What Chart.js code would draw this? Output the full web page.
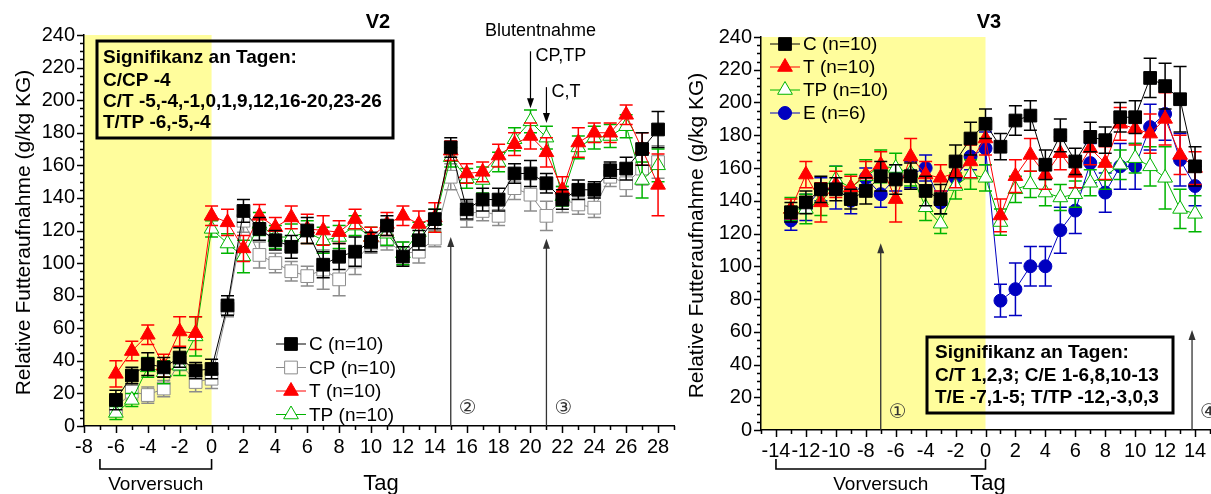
<!DOCTYPE html>
<html lang="de">
<head>
<meta charset="UTF-8">
<title>Relative Futteraufnahme V2 / V3</title>
<script src="https://cdn.jsdelivr.net/npm/chart.js"></script>
<style>
  html, body { margin:0; padding:0; background:#fff; overflow:hidden; width:1211px; height:494px }
  canvas { position:absolute; top:0 }
  #cV2 { left:0 }
  #cV3 { left:680px }
</style>
</head>
<body>
<canvas id="cV2" width="700" height="494"></canvas>
<canvas id="cV3" width="540" height="494"></canvas>

<script>
// ---- Versuch V2: Tage und Mittelwerte (g/kg KG) ----
const tageV2 = [-6,-5,-4,-3,-2,-1,0,1,2,3,4,5,6,7,8,9,10,11,12,13,14,15,16,17,18,19,20,21,22,23,24,25,26,27,28];
const futterC_V2  = [16,31,38,36,42,34,35,74,132,121,114,110,120,99,104,107,113,123,104,114,127,171,133,139,139,155,155,149,139,145,145,157,158,170,182];
const futterCP_V2 = [11,21,19,23,39,27,29,72,126,105,100,95,92,96,90,101,112,114,106,107,115,153,130,132,129,146,142,129,139,136,134,153,149,158,162];
const futterT_V2  = [32,46,56,37,58,57,129,125,109,129,122,128,121,120,119,127,116,124,129,124,128,169,155,156,166,173,178,168,145,174,180,180,191,170,148];
const futterTP_V2 = [8,16,36,33,37,55,121,112,104,124,116,116,119,114,116,123,116,118,106,119,126,165,152,151,162,176,187,177,141,171,177,178,184,151,160];
// Standardfehler
const fehlerC_V2  = [6,5,7,6,6,5,6,6,7,7,6,7,8,8,8,9,6,6,6,6,6,6,6,7,7,6,8,6,6,6,5,5,7,10,11];
const fehlerCP_V2 = [4,5,5,5,5,6,6,5,7,8,6,6,6,12,10,8,6,6,7,7,5,8,8,6,6,7,10,9,8,6,6,6,8,10,10];
const fehlerT_V2  = [8,6,6,7,9,10,6,8,8,7,6,7,9,9,7,6,6,7,6,8,9,6,6,6,7,7,8,9,8,9,6,6,6,10,19];
const fehlerTP_V2 = [4,4,6,7,6,12,5,6,10,7,7,8,7,8,7,6,6,7,7,6,7,6,6,8,6,7,7,7,6,7,7,7,7,11,10];

// ---- Versuch V3 ----
const tageV3 = [-13,-12,-11,-10,-9,-8,-7,-6,-5,-4,-3,-2,-1,0,1,2,3,4,5,6,7,8,9,10,11,12,13,14];
const futterC_V3  = [133,139,147,147,141,146,155,153,155,146,141,164,178,187,173,189,192,162,180,164,179,177,191,191,215,210,202,161];
const futterT_V3  = [135,156,139,150,148,156,162,141,167,156,154,157,164,178,131,155,168,156,169,157,172,163,187,184,181,190,168,160];
const futterTP_V3 = [135,135,140,153,148,155,161,160,157,136,126,149,156,154,127,147,150,145,142,144,151,155,162,166,161,154,135,132];
const futterE_V3  = [128,136,147,148,140,154,144,154,156,160,139,154,167,172,79,86,100,100,122,134,163,145,161,161,185,193,165,149];
const fehlerC_V3  = [6,7,8,7,6,8,9,9,8,9,9,10,10,9,8,9,9,9,10,8,9,8,9,10,12,14,20,12];
const fehlerT_V3  = [6,8,12,8,7,8,8,14,11,8,8,9,10,10,10,10,10,9,10,9,10,10,10,10,12,16,12,10];
const fehlerTP_V3 = [7,9,9,8,8,10,10,9,8,8,6,8,9,8,8,8,8,8,8,8,8,8,9,9,12,19,12,11];
const fehlerE_V3  = [6,8,7,13,8,6,8,8,8,8,7,7,8,10,10,16,12,12,14,14,12,12,14,14,14,16,16,12];

// Achsenbeschriftung
const yTicks = [0,20,40,60,80,100,120,140,160,180,200,220,240];
const xTicksV2 = [-8,-6,-4,-2,0,2,4,6,8,10,12,14,16,18,20,22,24,26,28];
const xTicksV3 = [-14,-12,-10,-8,-6,-4,-2,0,2,4,6,8,10,12,14];

const SCHRIFT = 'Arial, "Liberation Sans", sans-serif';
const GELB = '#fffd9c';

const STIL = {
  C:  { borderColor:'#000000', pointBackgroundColor:'#000000', pointStyle:'rect', pointRadius:9 },
  CP: { borderColor:'#8c8c8c', pointBackgroundColor:'#ffffff', pointStyle:'rect', pointRadius:9 },
  T:  { borderColor:'#ff0000', pointBackgroundColor:'#ff0000', pointStyle:'triangle', pointRadius:8.5 },
  TP: { borderColor:'#00b400', pointBackgroundColor:'#ffffff', pointStyle:'triangle', pointRadius:8.5 },
  E:  { borderColor:'#0000c0', pointBackgroundColor:'#0000c0', pointStyle:'circle', pointRadius:6.5 }
};

function datensatz(label, tage, werte, fehler, stil) {
  return Object.assign({
    label,
    data: tage.map((t, i) => ({ x:t, y:werte[i] })),
    fehler,
    borderWidth:1, pointBorderWidth:1, pointHoverRadius:9, tension:0
  }, stil);
}

function pfeilSpitze(ctx, x, y, richtung) {
  ctx.beginPath();
  ctx.moveTo(x, y);
  ctx.lineTo(x - 3.5, y - 10 * richtung);
  ctx.lineTo(x + 3.5, y - 10 * richtung);
  ctx.closePath();
  ctx.fill();
}

// Zeichnet gelbe Vorversuchs-Phase, Fehlerbalken, Teilstriche und Beschriftung
function deko(cfg) {
  return {
    id: 'deko',
    beforeDraw(chart) {
      const { ctx, chartArea:a, scales:{ x } } = chart;
      ctx.save();
      ctx.fillStyle = GELB;
      ctx.fillRect(a.left, a.top, x.getPixelForValue(0) - a.left, a.bottom - a.top);
      ctx.restore();
    },
    beforeDatasetDraw(chart, args) {
      const ds = chart.data.datasets[args.index];
      const y = chart.scales.y, ctx = chart.ctx;
      ctx.save();
      ctx.strokeStyle = ds.borderColor;
      ctx.lineWidth = 1.5;
      args.meta.data.forEach((pt, i) => {
        const v = ds.data[i].y, e = ds.fehler[i];
        const yo = y.getPixelForValue(v + e), yu = y.getPixelForValue(v - e);
        ctx.beginPath();
        ctx.moveTo(pt.x, yo); ctx.lineTo(pt.x, yu);
        ctx.moveTo(pt.x - 6.5, yo); ctx.lineTo(pt.x + 6.5, yo);
        ctx.moveTo(pt.x - 6.5, yu); ctx.lineTo(pt.x + 6.5, yu);
        ctx.stroke();
      });
      ctx.restore();
    },
    afterDraw(chart) {
      const { ctx, chartArea:a, scales:{ x, y } } = chart;
      ctx.save();

      // Teilstriche
      ctx.strokeStyle = '#000';
      ctx.lineWidth = 1.5;
      ctx.beginPath();
      for (let v = y.min; v <= y.max; v += 5) {
        const py = Math.round(y.getPixelForValue(v)) + 0.5;
        ctx.moveTo(a.left - (yTicks.includes(v) ? 7 : 4), py);
        ctx.lineTo(a.left, py);
      }
      for (let d = Math.ceil(x.min); d <= x.max; d++) {
        const px = Math.round(x.getPixelForValue(d)) + 0.5;
        ctx.moveTo(px, a.bottom);
        ctx.lineTo(px, a.bottom + (cfg.xTicks.includes(d) ? 7 : 4));
      }
      ctx.stroke();

      // senkrechte Pfeile mit Nummern
      ctx.strokeStyle = '#333'; ctx.fillStyle = '#333'; ctx.lineWidth = 1.3;
      cfg.pfeile.forEach(p => {
        const px = x.getPixelForValue(p.tag), top = y.getPixelForValue(p.bis);
        ctx.beginPath(); ctx.moveTo(px, a.bottom); ctx.lineTo(px, top + 6); ctx.stroke();
        pfeilSpitze(ctx, px, top, -1);
        ctx.font = '20px "DejaVu Sans", "Noto Sans CJK JP", sans-serif';
        ctx.textAlign = 'center'; ctx.textBaseline = 'middle';
        ctx.fillText(p.marke, px + 17, a.bottom - 17);
      });

      // Blutentnahme-Pfeile
      ctx.strokeStyle = '#000'; ctx.fillStyle = '#000'; ctx.lineWidth = 1.2;
      ctx.font = '18px ' + SCHRIFT;
      ctx.textBaseline = 'middle';
      (cfg.blut || []).forEach((p, i) => {
        const px = x.getPixelForValue(p.tag), y0 = y.getPixelForValue(p.von), y1 = y.getPixelForValue(p.bis);
        ctx.beginPath(); ctx.moveTo(px, y0); ctx.lineTo(px, y1 - 6); ctx.stroke();
        pfeilSpitze(ctx, px, y1, 1);
        ctx.textAlign = 'left';
        ctx.fillText(p.text, px + 5, y0 + 5);
        if (i === 0) {
          ctx.textAlign = 'center';
          ctx.fillText('Blutentnahme', px + 10, y0 - 20);
        }
      });

      // Legende
      const L = cfg.legende;
      L.reihe.forEach((idx, k) => {
        const ds = chart.data.datasets[idx];
        const ly = L.y + k * L.dy;
        ctx.strokeStyle = ds.borderColor; ctx.lineWidth = 1;
        ctx.beginPath(); ctx.moveTo(L.x, ly); ctx.lineTo(L.x + 30, ly); ctx.stroke();
        ctx.fillStyle = ds.pointBackgroundColor;
        Chart.helpers.drawPoint(ctx, { pointStyle:ds.pointStyle, radius:ds.pointRadius, borderWidth:1, rotation:0 }, L.x + 15, ly);
        ctx.fillStyle = '#000';
        ctx.font = '19px ' + SCHRIFT;
        ctx.textAlign = 'left'; ctx.textBaseline = 'middle';
        ctx.fillText(ds.label, L.x + 33, ly + 1);
      });

      // Signifikanz-Kasten
      const B = cfg.kasten;
      ctx.strokeStyle = '#000'; ctx.lineWidth = 3;
      ctx.strokeRect(B.x0, B.y0, B.x1 - B.x0, B.y1 - B.y0);
      ctx.fillStyle = '#000';
      ctx.font = 'bold 19px ' + SCHRIFT;
      ctx.textAlign = 'left'; ctx.textBaseline = 'middle';
      B.zeilen.forEach((z, k) => ctx.fillText(z, B.tx, B.zy[k]));

      // Titel
      ctx.font = 'bold 20px ' + SCHRIFT;
      ctx.textAlign = 'center';
      ctx.fillText(cfg.titel[0], cfg.titel[1], 22);

      // y-Achsentitel
      ctx.font = '21px ' + SCHRIFT;
      ctx.save();
      ctx.translate(cfg.yTitelX, (a.top + a.bottom) / 2 + 2);
      ctx.rotate(-Math.PI / 2);
      ctx.fillText('Relative Futteraufnahme (g/kg KG)', 0, 0);
      ctx.restore();

      // x-Achsentitel und Vorversuch-Klammer
      ctx.font = '22px ' + SCHRIFT;
      ctx.fillText('Tag', cfg.tagX, 484);
      const k0 = x.getPixelForValue(cfg.vorversuch), k1 = x.getPixelForValue(0);
      ctx.strokeStyle = '#000'; ctx.lineWidth = 1.6;
      ctx.beginPath();
      ctx.moveTo(k0, 459); ctx.lineTo(k0, 469); ctx.lineTo(k1, 469); ctx.lineTo(k1, 459);
      ctx.stroke();
      ctx.font = '19px ' + SCHRIFT;
      ctx.fillText('Vorversuch', (k0 + k1) / 2, 485);

      ctx.restore();
    }
  };
}

function optionen(c) {
  const font = { family:SCHRIFT, size:20 };
  return {
    responsive:false, animation:false, devicePixelRatio:1,
    layout:{ padding:{ top:c.oben, right:c.rechts, left:0, bottom:0 } },
    plugins:{ legend:{ display:false }, tooltip:{ enabled:false } },
    scales:{
      x:{
        type:'linear', min:c.xMin, max:c.xMax,
        afterBuildTicks:s => { s.ticks = c.xTicks.map(v => ({ value:v })); },
        afterFit:s => { s.height = c.hoehe - c.unten; },
        grid:{ display:false, drawTicks:false },
        border:{ display:true, color:'#000', width:1.5 },
        ticks:{ font, color:'#000', padding:9, maxRotation:0, autoSkip:false }
      },
      y:{
        min:0, max:240,
        afterBuildTicks:s => { s.ticks = yTicks.map(v => ({ value:v })); },
        afterFit:s => { s.width = c.links; },
        grid:{ display:false, drawTicks:false },
        border:{ display:true, color:'#000', width:1.5 },
        ticks:{ font, color:'#000', padding:9 }
      }
    }
  };
}

// V2
const cfgV2 = {
  xMin:-8, xMax:29, xTicks:xTicksV2, hoehe:494, links:84, oben:35, unten:426, rechts:26,
  pfeile:[ { tag:15, bis:116, marke:'\u2461' }, { tag:21, bis:115, marke:'\u2462' } ],
  blut:[ { tag:20, von:230, bis:195, text:'CP,TP' }, { tag:21, von:208, bis:186, text:'C,T' } ],
  legende:{ x:276, y:344, dy:23.5, reihe:[0,3,1,2] },
  kasten:{ x0:97, y0:41, x1:393, y1:138, tx:103, zy:[58,80.5,101.5,122.5],
    zeilen:['Signifikanz an Tagen:', 'C/CP -4', 'C/T -5,-4,-1,0,1,9,12,16-20,23-26', 'T/TP -6,-5,-4'] },
  titel:['V2', 378], yTitelX:24, tagX:381, vorversuch:-7
};
new Chart(document.getElementById('cV2'), {
  type:'line',
  data:{ datasets:[
    datensatz('C (n=10)',  tageV2, futterC_V2,  fehlerC_V2,  STIL.C),
    datensatz('T (n=10)',  tageV2, futterT_V2,  fehlerT_V2,  STIL.T),
    datensatz('TP (n=10)', tageV2, futterTP_V2, fehlerTP_V2, STIL.TP),
    datensatz('CP (n=10)', tageV2, futterCP_V2, fehlerCP_V2, STIL.CP)
  ]},
  options:optionen(cfgV2),
  plugins:[deko(cfgV2)]
});

// V3 (Canvas beginnt bei x = 680)
const cfgV3 = {
  xMin:-15, xMax:15, xTicks:xTicksV3, hoehe:494, links:81, oben:37, unten:430, rechts:7,
  pfeile:[ { tag:-7, bis:114, marke:'\u2460' }, { tag:13.8, bis:61, marke:'\u2463' } ],
  blut:[],
  legende:{ x:90, y:44, dy:23, reihe:[0,1,2,3] },
  kasten:{ x0:247, y0:337, x1:493, y1:413, tx:255, zy:[353,375.5,398],
    zeilen:['Signifikanz an Tagen:', 'C/T 1,2,3; C/E 1-6,8,10-13', 'T/E -7,1-5; T/TP -12,-3,0,3'] },
  titel:['V3', 309], yTitelX:17, tagX:308, vorversuch:-14
};
new Chart(document.getElementById('cV3'), {
  type:'line',
  data:{ datasets:[
    datensatz('C (n=10)',  tageV3, futterC_V3,  fehlerC_V3,  STIL.C),
    datensatz('T (n=10)',  tageV3, futterT_V3,  fehlerT_V3,  STIL.T),
    datensatz('TP (n=10)', tageV3, futterTP_V3, fehlerTP_V3, STIL.TP),
    datensatz('E (n=6)',   tageV3, futterE_V3,  fehlerE_V3,  STIL.E)
  ]},
  options:optionen(cfgV3),
  plugins:[deko(cfgV3)]
});
</script>
</body>
</html>
